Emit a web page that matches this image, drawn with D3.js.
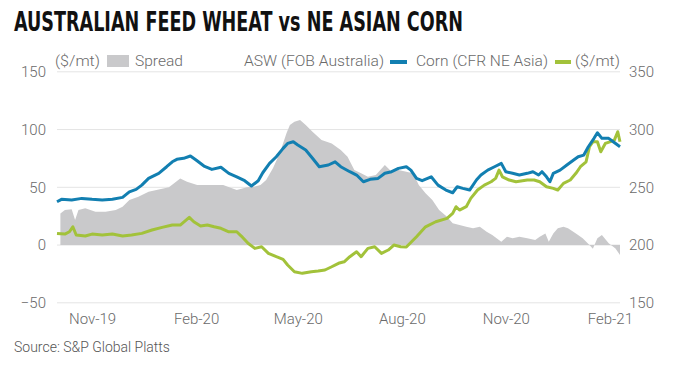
<!DOCTYPE html>
<html><head><meta charset="utf-8">
<script src="https://cdn.jsdelivr.net/npm/d3@7"></script>
<style>body{margin:0;background:#fff}svg{display:block}</style>
</head><body><svg id="c" width="680" height="365"></svg>
<script>
const leftTicks = [-50, 0, 50, 100, 150];
const rightTicks = [150, 200, 250, 300, 350];
const xTickDates = ["2019-11-01","2020-02-01","2020-05-01","2020-08-01","2020-11-01","2021-02-01"];
const xTickLabels = ["Nov-19","Feb-20","May-20","Aug-20","Nov-20","Feb-21"];

const aswDates = ["2019-10-01","2019-10-05","2019-10-14","2019-10-23","2019-11-01","2019-11-10","2019-11-19","2019-11-28","2019-12-04","2019-12-10","2019-12-15","2019-12-21","2019-12-30","2020-01-06","2020-01-11","2020-01-15","2020-01-21","2020-01-27","2020-02-01","2020-02-08","2020-02-15","2020-02-23","2020-03-01","2020-03-08","2020-03-15","2020-03-21","2020-03-27","2020-03-31","2020-04-06","2020-04-12","2020-04-18","2020-04-22","2020-04-27","2020-05-01","2020-05-08","2020-05-14","2020-05-20","2020-05-28","2020-06-03","2020-06-08","2020-06-16","2020-06-22","2020-06-28","2020-07-04","2020-07-11","2020-07-17","2020-07-23","2020-07-29","2020-08-05","2020-08-09","2020-08-14","2020-08-19","2020-08-27","2020-09-02","2020-09-09","2020-09-15","2020-09-19","2020-09-24","2020-09-30","2020-10-06","2020-10-10","2020-10-16","2020-10-22","2020-10-28","2020-11-01","2020-11-07","2020-11-13","2020-11-20","2020-11-25","2020-11-30","2020-12-03","2020-12-07","2020-12-10","2020-12-13","2020-12-19","2020-12-25","2020-12-31","2021-01-04","2021-01-09","2021-01-13","2021-01-18","2021-01-21","2021-01-25","2021-01-31","2021-02-04","2021-02-10"];
const aswValues = [237.5,239.6,239,240.4,239.6,239,239.6,241.3,246.1,248.2,251.9,257.7,262.1,267.8,272.1,274.2,275.1,277.1,273.6,268.4,265.5,267.3,262.1,259.1,255.7,251.1,255.7,262.6,270.7,276.5,283.7,288,289.4,286.6,282.3,275.1,267.8,269.3,272.1,267.8,263.5,260.6,254.8,256.9,257.7,262.1,263.5,266.4,267.8,264.9,257.7,255.7,259.1,251.9,247.6,245.3,250.5,249.1,247.6,256.3,260.6,264.9,267.8,270.7,263.5,262.1,260.6,262.1,263.5,260.6,263.5,259.1,254.8,262.1,264.9,269.3,273.6,276.5,277.9,285.1,292.4,297.2,292.4,292.4,289.4,285.1];

const cornDates = ["2019-10-01","2019-10-08","2019-10-12","2019-10-15","2019-10-18","2019-10-26","2019-11-01","2019-11-10","2019-11-19","2019-11-28","2019-12-06","2019-12-15","2019-12-24","2020-01-02","2020-01-11","2020-01-18","2020-01-26","2020-01-30","2020-02-05","2020-02-11","2020-02-17","2020-02-23","2020-03-01","2020-03-08","2020-03-12","2020-03-18","2020-03-24","2020-03-30","2020-04-05","2020-04-12","2020-04-18","2020-04-22","2020-04-28","2020-05-05","2020-05-13","2020-05-19","2020-05-25","2020-05-31","2020-06-06","2020-06-11","2020-06-16","2020-06-22","2020-06-26","2020-07-02","2020-07-08","2020-07-14","2020-07-20","2020-07-25","2020-07-31","2020-08-05","2020-08-14","2020-08-22","2020-08-31","2020-09-10","2020-09-15","2020-09-18","2020-09-21","2020-09-27","2020-10-01","2020-10-07","2020-10-13","2020-10-19","2020-10-23","2020-10-26","2020-10-29","2020-11-04","2020-11-10","2020-11-20","2020-11-26","2020-12-01","2020-12-07","2020-12-13","2020-12-17","2020-12-22","2020-12-28","2021-01-02","2021-01-06","2021-01-11","2021-01-14","2021-01-17","2021-01-21","2021-01-24","2021-01-28","2021-02-01","2021-02-05","2021-02-08","2021-02-10"];
const cornValues = [210.1,209.5,211.5,215.8,208.7,207.8,209.5,208.7,209.5,207.8,208.7,210.1,213,215.3,217.3,217.3,224,220.2,216.5,217.3,215.8,214.5,211.5,211.5,207.8,201.5,197.1,198.5,192.8,189.9,187.6,182.7,176.9,175.5,176.9,177.5,178.4,181.2,184.2,185.5,189.9,194.2,189.9,197.1,198.5,192.8,195.7,200,198.5,198.3,207.2,215.8,220.2,223.1,227.4,233.2,230.3,233.2,240.4,247.6,251.9,254.8,257.7,264.9,259.1,256.3,254.8,256.3,256.3,254.8,250.5,249.1,247.6,253.4,256.3,262.1,267.8,272.1,285.1,289.4,289.4,280.8,288,289.4,290.9,298.1,289.4];

const spreadDates = ["2019-10-04","2019-10-08","2019-10-14","2019-10-17","2019-10-20","2019-10-26","2019-11-04","2019-11-13","2019-11-22","2019-11-28","2019-12-04","2019-12-12","2019-12-21","2019-12-30","2020-01-08","2020-01-18","2020-01-24","2020-02-02","2020-02-14","2020-02-25","2020-03-08","2020-03-17","2020-03-23","2020-03-29","2020-04-03","2020-04-09","2020-04-15","2020-04-21","2020-04-24","2020-04-28","2020-05-03","2020-05-08","2020-05-14","2020-05-22","2020-05-31","2020-06-08","2020-06-14","2020-06-20","2020-06-26","2020-07-02","2020-07-09","2020-07-17","2020-07-23","2020-07-29","2020-08-05","2020-08-11","2020-08-16","2020-08-22","2020-08-28","2020-09-03","2020-09-10","2020-09-15","2020-09-21","2020-09-27","2020-10-03","2020-10-09","2020-10-15","2020-10-20","2020-10-28","2020-11-02","2020-11-07","2020-11-13","2020-11-20","2020-11-27","2020-12-01","2020-12-06","2020-12-09","2020-12-13","2020-12-17","2020-12-22","2020-12-26","2021-01-02","2021-01-08","2021-01-14","2021-01-17","2021-01-21","2021-01-25","2021-01-31","2021-02-06","2021-02-10"];
const spreadValues = [27.4,30.3,30.9,21.6,30.3,31.8,28.8,28.8,30.3,33.2,39,41.8,46.1,48.2,50,57.7,54.8,51.9,51.9,51.9,47.6,50,50.5,51.9,56.3,66.4,79.4,96.7,103.9,106.8,108.2,103.9,98.1,90.9,88,82.3,76.5,64.9,62.1,59.1,60.6,69.3,63.5,64.9,63.5,62.1,51.9,44.8,39,30.3,24.5,18.8,17.3,15.8,14.5,15.8,11.5,8.7,2.9,7.2,5.8,7.2,5.8,4.3,7.2,10.1,2.9,10.1,14.5,15.8,14.5,10.1,5.8,0,-3.2,5.8,8.7,1.5,-2.9,-8.7];

const parse = d3.timeParse("%Y-%m-%d");
const svg = d3.select("#c");
const FONT = "Roboto, 'Liberation Sans', sans-serif";
const TXT = "#6a6a6a";

const x = d3.scaleTime().domain([parse("2019-10-01"), parse("2021-02-10")]).range([57, 620]);
const yL = d3.scaleLinear().domain([-50, 150]).range([302.8, 71.8]);
const yR = d3.scaleLinear().domain([150, 350]).range([302.8, 71.8]);

svg.append("rect").attr("width",680).attr("height",365).attr("fill","#fff");

// title
svg.append("text").attr("x",14).attr("y",31)
  .attr("font-family","'Liberation Sans Narrow','DejaVu Sans Condensed',sans-serif")
  .attr("font-weight","bold").attr("font-size",27).attr("fill","#111")
  .attr("textLength",449).attr("lengthAdjust","spacingAndGlyphs")
  .text("AUSTRALIAN FEED WHEAT vs NE ASIAN CORN");

// gridlines
svg.append("g").selectAll("line").data(leftTicks).join("line")
  .attr("x1",57).attr("x2",620).attr("y1",d=>yL(d)).attr("y2",d=>yL(d))
  .attr("stroke","#e4e4e4").attr("stroke-width",1);

// left axis
const gl = svg.append("g").attr("transform","translate(46,0)")
  .call(d3.axisLeft(yL).tickValues(leftTicks).tickSize(0).tickPadding(0));
gl.select(".domain").remove();
gl.selectAll("text").attr("font-family",FONT).attr("font-size",15).attr("fill",TXT).attr("font-weight",300);

// right axis
const gr = svg.append("g").attr("transform","translate(629,0)")
  .call(d3.axisRight(yR).tickValues(rightTicks).tickSize(0).tickPadding(0));
gr.select(".domain").remove();
gr.selectAll("text").attr("font-family",FONT).attr("font-size",15).attr("fill",TXT).attr("font-weight",300);

// x axis
const gx = svg.append("g").attr("transform","translate(0,313)")
  .call(d3.axisBottom(x).tickValues(xTickDates.map(parse)).tickSize(0).tickPadding(0)
    .tickFormat((d,i)=>xTickLabels[i]));
gx.select(".domain").remove();
gx.selectAll("text").attr("font-family",FONT).attr("font-size",15).attr("fill",TXT).attr("font-weight",300);

// spread area
const spread = spreadDates.map((d,i)=>({d:parse(d), v:spreadValues[i]}));
svg.append("path").datum(spread)
  .attr("d", d3.area().x(p=>x(p.d)).y0(yL(0)).y1(p=>yL(p.v)))
  .attr("fill","#c9c9cb");

const corn = cornDates.map((d,i)=>({d:parse(d), v:cornValues[i]}));
const asw = aswDates.map((d,i)=>({d:parse(d), v:aswValues[i]}));
const line = d3.line().x(p=>x(p.d)).y(p=>yR(p.v));
svg.append("path").datum(corn).attr("d",line).attr("fill","none")
  .attr("stroke","#a2c23a").attr("stroke-width",3).attr("stroke-linejoin","round");
svg.append("path").datum(asw).attr("d",line).attr("fill","none")
  .attr("stroke","#127fb1").attr("stroke-width",3).attr("stroke-linejoin","round");

// legend
const lg = svg.append("g").attr("font-family",FONT).attr("font-size",15).attr("fill",TXT).attr("font-weight",300);
function lt(xp, s, w){ lg.append("text").attr("x",xp).attr("y",66).attr("textLength",w).attr("lengthAdjust","spacingAndGlyphs").text(s); }
lt(55,"($/mt)",45);
lg.append("rect").attr("x",107).attr("y",55).attr("width",22).attr("height",12).attr("fill","#c9c9cb");
lt(135,"Spread",48);
lt(244,"ASW (FOB Australia)",140);
lg.append("rect").attr("x",390).attr("y",60).attr("width",17).attr("height",4).attr("fill","#127fb1");
lt(416,"Corn (CFR NE Asia)",132);
lg.append("rect").attr("x",555).attr("y",60).attr("width",16).attr("height",4).attr("fill","#a2c23a");
lt(575,"($/mt)",45);

// source
svg.append("text").attr("x",14).attr("y",352).attr("font-family",FONT).attr("font-size",14)
  .attr("font-weight",300).attr("fill","#555").text("Source: S&P Global Platts");
</script></body></html>
